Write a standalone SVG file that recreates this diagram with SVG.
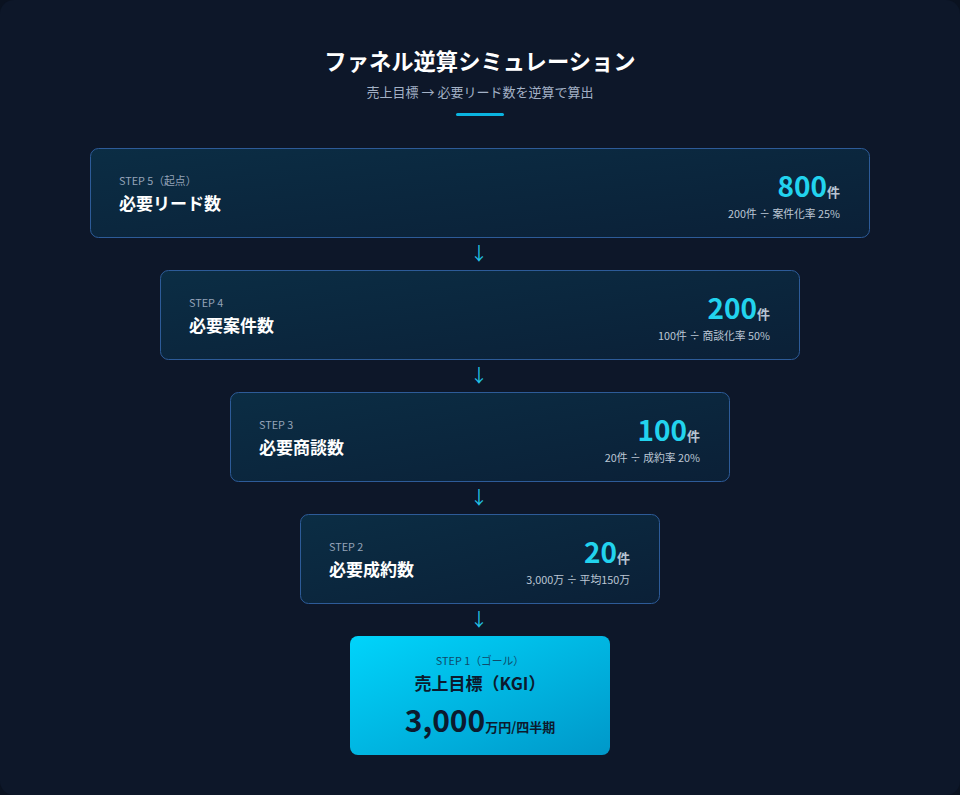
<svg xmlns="http://www.w3.org/2000/svg" width="960" height="795" viewBox="0 0 960 795">
<defs>
<linearGradient id="gBox" x1="0" y1="0" x2="1" y2="1">
<stop offset="0" stop-color="#0b2d44"/>
<stop offset="1" stop-color="#0b2037"/>
</linearGradient>
<linearGradient id="gGoal" x1="0" y1="0" x2="1" y2="1">
<stop offset="0" stop-color="#00d4fb"/>
<stop offset="1" stop-color="#0098c9"/>
</linearGradient>
<style>
text{font-family:"Noto Sans CJK JP","Noto Sans",sans-serif}
.box{fill:url(#gBox);stroke:#2d5b98;stroke-width:1}
.step{font-size:10.8px;fill:#94a3b8}
.ttl{font-size:17px;font-weight:700;fill:#ffffff}
.num{font-size:28px;font-weight:700;fill:#22d3ee}
.unit{font-size:13px;font-weight:700;fill:#b8c4d4}
.sub{font-size:10.8px;fill:#bcc7d5}
.arr{font-size:18px;fill:#22c3e6;text-anchor:middle}
</style>
</defs>
<rect x="0" y="0" width="960" height="795" fill="#0a1220"/>
<rect x="0" y="0" width="960" height="795" rx="14" fill="#0d1729"/>
<g id="header">
<text x="480" y="70" text-anchor="middle" font-size="22.3" font-weight="700" fill="#ffffff">ファネル逆算シミュレーション</text>
<text x="480" y="97" text-anchor="middle" font-size="13" fill="#a3b1c6">売上目標 → 必要リード数を逆算で算出</text>
<rect x="456" y="113" width="48" height="3" rx="1.5" fill="#0ab4e0"/>
</g>
<g id="connectors">
<text class="arr" x="479" y="260">↓</text>
<text class="arr" x="479" y="382">↓</text>
<text class="arr" x="479" y="504">↓</text>
<text class="arr" x="479" y="626">↓</text>
</g>
<g id="step5">
<rect class="box" x="90.5" y="148.5" width="779" height="89" rx="8"/>
<text class="step" x="119" y="185">STEP 5（起点）</text>
<text class="ttl" x="119" y="210">必要リード数</text>
<text x="840" y="197" text-anchor="end"><tspan class="num">800</tspan><tspan class="unit">件</tspan></text>
<text class="sub" x="840" y="218" text-anchor="end">200件 ÷ 案件化率 25%</text>
</g>
<g id="step4">
<rect class="box" x="160.5" y="270.5" width="639" height="89" rx="8"/>
<text class="step" x="189" y="307">STEP 4</text>
<text class="ttl" x="189" y="332">必要案件数</text>
<text x="770" y="319" text-anchor="end"><tspan class="num">200</tspan><tspan class="unit">件</tspan></text>
<text class="sub" x="770" y="340" text-anchor="end">100件 ÷ 商談化率 50%</text>
</g>
<g id="step3">
<rect class="box" x="230.5" y="392.5" width="499" height="89" rx="8"/>
<text class="step" x="259" y="429">STEP 3</text>
<text class="ttl" x="259" y="454">必要商談数</text>
<text x="700" y="441" text-anchor="end"><tspan class="num">100</tspan><tspan class="unit">件</tspan></text>
<text class="sub" x="700" y="462" text-anchor="end">20件 ÷ 成約率 20%</text>
</g>
<g id="step2">
<rect class="box" x="300.5" y="514.5" width="359" height="89" rx="8"/>
<text class="step" x="329" y="551">STEP 2</text>
<text class="ttl" x="329" y="576">必要成約数</text>
<text x="630" y="563" text-anchor="end"><tspan class="num">20</tspan><tspan class="unit">件</tspan></text>
<text class="sub" x="630" y="584" text-anchor="end">3,000万 ÷ 平均150万</text>
</g>
<g id="step1">
<rect x="350" y="636" width="260" height="119" rx="8" fill="url(#gGoal)"/>
<text x="480" y="665" text-anchor="middle" font-size="10.8" fill="#0f4a6a">STEP 1（ゴール）</text>
<text x="480" y="690" text-anchor="middle" font-size="17" font-weight="700" fill="#0c1a2e">売上目標（KGI）</text>
<text x="480" y="732" text-anchor="middle" fill="#0c1a2e" font-weight="700"><tspan font-size="30">3,000</tspan><tspan font-size="13">万円/四半期</tspan></text>
</g>
</svg>
